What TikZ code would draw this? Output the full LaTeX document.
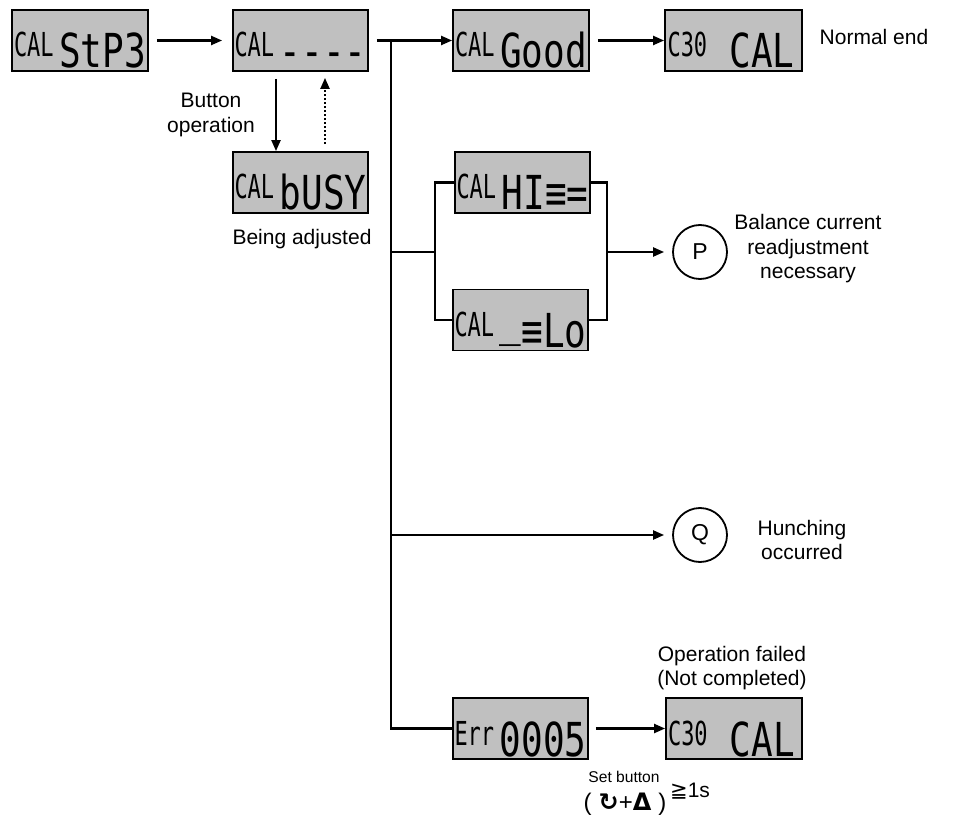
\documentclass[tikz,border=0pt]{standalone}
\usepackage{fontspec}
\setmainfont{Liberation Sans}
\newfontfamily\lcdfont{DejaVu Sans Mono}
\newfontfamily\symfont{DejaVu Sans}
\usetikzlibrary{arrows.meta}
\definecolor{lcdgray}{RGB}{192,192,192}
\newcommand\lcdsm[1]{\raisebox{11pt}{\scalebox{1}[1.5]{\fontsize{22}{22}\lcdfont #1}}}
\newcommand\lcdbg[1]{\scalebox{1}[1.3]{\fontsize{36}{36}\lcdfont #1}}
\newcommand\lcd[3][0pt]{\makebox[132pt]{\lcdsm{#2}\hfill\lcdbg{#3}\hspace*{#1}}}
\newcommand\txt{\fontsize{21}{24.5}\selectfont}
\tikzset{
  lcdbox/.style={draw=black, line width=1.8pt, fill=lcdgray, inner sep=0pt,
    minimum width=136pt, minimum height=61pt, text height=58pt, text depth=3pt},
  conn/.style={line width=2.1pt},
  arr/.style={conn, -{Triangle[length=11pt,width=9pt]}},
  dotarr/.style={line width=2.1pt, dash pattern=on 2pt off 2pt, -{Triangle[length=11pt,width=9pt]}},
  lbl/.style={font=\txt, inner sep=0pt, align=center},
  mark circ/.style={draw, circle, line width=1.8pt, minimum size=54pt, inner sep=0pt, font=\fontsize{23}{23}\selectfont}
}
\begin{document}
\begin{tikzpicture}[x=1pt,y=-1pt]
\useasboundingbox (0,0) rectangle (953,818);
% displays
\node[lcdbox] (b1) at (80,40.5) {\lcd{CAL}{StP3}};
\node[lcdbox, minimum width=135pt] (b2) at (300.5,40.5) {\lcd{CAL}{----}};
\node[lcdbox, minimum width=135pt] (b3) at (300.5,182.5) {\lcd{CAL}{bUSY}};
\node[lcdbox] (good) at (521,40.5) {\lcd{CAL}{Good}};
\node[lcdbox, minimum width=137pt] (c30a) at (733.5,40.5) {\lcd[5pt]{C30}{CAL}};
\node[lcdbox, minimum width=135pt] (hi) at (522.5,182.5) {\lcd{CAL}{HI≡=}};
\node[lcdbox, minimum width=135pt] (lo) at (520.5,320) {\lcd{CAL}{\raisebox{9pt}{\_}≡Lo}};
\node[lcdbox, minimum width=135pt] (err) at (520.5,728.5) {\lcd{Err}{0005}};
\node[lcdbox] (c30b) at (734,728.5) {\lcd[5pt]{C30}{CAL}};
% circles
\node[mark circ] (P) at (700,252) {P};
\node[mark circ] (Q) at (700,535) {Q};
% labels
\node[lbl] (lbtn) at (211,115) {Button\\operation};
\node[lbl] (lbusy) at (302,239) {Being adjusted};
\node[lbl] (lnorm) at (874,37) {Normal end};
\node[lbl] (lbal) at (808,249) {Balance current\\readjustment\\necessary};
\node[lbl] (lhun) at (802,540) {Hunching\\occurred};
\node[lbl] (lfail) at (732,668) {Operation failed\\(Not completed)};
\node[lbl, font=\fontsize{15.6}{18}\selectfont] (lset) at (624,777) {Set button};
\node[lbl, font=\fontsize{24}{26}\selectfont] (lkeys) at (625,804) {(\hspace{7pt}{\symfont\bfseries ↻}{+}{\symfont\bfseries Δ}\hspace{7pt})};
\node[lbl, anchor=west] (lsec) at (670,791) {{\symfont ≧}1s};
% coordinates
\coordinate (tr0) at (391,40.5);
\coordinate (tr1) at (391,728.5);
\coordinate (pj) at (391,252);
\coordinate (pl) at (435,252);
\coordinate (pr) at (607,252);
\coordinate (qj) at (391,535);
% connectors
\draw[arr, shorten <=8pt, shorten >=10pt] (b1) -- (b2);
\draw[arr, shorten <=7pt] ([xshift=-24.5pt]b2.south) -- ([xshift=-24.5pt]b3.north);
\draw[dotarr, shorten <=7pt, shorten >=6pt] ([xshift=24.5pt]b3.north) -- ([xshift=24.5pt]b2.south);
\draw[arr, shorten <=8pt] (b2.east) -- (good.west);
\draw[arr, shorten <=8pt] (good.east) -- (c30a.west);
\draw[conn] (tr0) -- (tr1) -- (err.west);
\draw[conn] (pj) -- (pl);
\draw[conn] (hi.west) -| (pl) |- (lo.west);
\draw[conn] (hi.east) -| (pr) |- (lo.east);
\draw[arr, shorten >=8pt] (pr) -- (P.west);
\draw[arr, shorten >=8pt] (qj) -- (Q.west);
\draw[arr, shorten <=7pt] (err.east) -- (c30b.west);
\end{tikzpicture}
\end{document}
